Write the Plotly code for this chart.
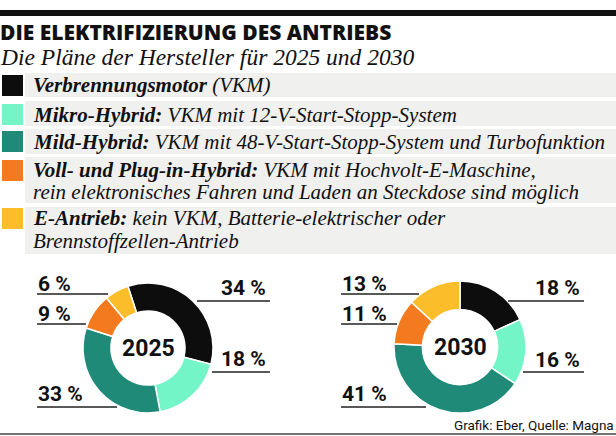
import plotly.graph_objects as go

# ---- data ----
categories = ["Verbrennungsmotor", "Mikro-Hybrid", "Mild-Hybrid", "Voll- und Plug-in-Hybrid", "E-Antrieb"]
values_2025 = [34, 18, 33, 9, 6]
values_2030 = [18, 16, 41, 11, 13]
years = ["2025", "2030"]
colors = ["#0d0d0d", "#74f5c8", "#1f8a78", "#f47a20", "#fcbd2b"]

legend_bold = ["Verbrennungsmotor", "Mikro-Hybrid:", "Mild-Hybrid:", "Voll- und Plug-in-Hybrid:", "E-Antrieb:"]
legend_rest = [
    ["(VKM)"],
    ["VKM mit 12-V-Start-Stopp-System"],
    ["VKM mit 48-V-Start-Stopp-System und Turbofunktion"],
    ["VKM mit Hochvolt-E-Maschine,", "rein elektronisches Fahren und Laden an Steckdose sind möglich"],
    ["kein VKM, Batterie-elektrischer oder", "Brennstoffzellen-Antrieb"],
]
title = "DIE ELEKTRIFIZIERUNG DES ANTRIEBS"
subtitle = "Die Pläne der Hersteller für 2025 und 2030"
source = "Grafik: Eber, Quelle: Magna"

W, H = 616, 436
SERIF = "Liberation Serif"
SANS = "Roboto"

fig = go.Figure()

# invisible cartesian layer (pixel coordinates) for shapes/annotations
fig.add_trace(go.Scatter(x=[], y=[], mode="markers", showlegend=False, hoverinfo="skip"))

# donuts
pie_geo = [
    dict(cx=148, cy=348, r=65, rot=-18),
    dict(cx=460, cy=347, r=66, rot=0),
]
for vals, g, yr in zip([values_2025, values_2030], pie_geo, years):
    fig.add_trace(go.Pie(
        labels=categories, values=vals, hole=0.57, sort=False, direction="clockwise",
        rotation=g["rot"], textinfo="none", hoverinfo="label+value",
        marker=dict(colors=colors, line=dict(color="white", width=1.5)),
        domain=dict(x=[(g["cx"] - g["r"]) / W, (g["cx"] + g["r"]) / W],
                    y=[(H - g["cy"] - g["r"]) / H, (H - g["cy"] + g["r"]) / H]),
        showlegend=False,
    ))

shapes = []
annotations = []

# top bar
shapes.append(dict(type="rect", x0=0, x1=W, y0=10, y1=16, fillcolor="#111", line_width=0, layer="below"))
annotations.append(dict(x=0, y=32, xshift=-2, text=title, xanchor="left", yanchor="middle",
                        showarrow=False, font=dict(family="Open Sans", size=21, weight=800, color="#111")))
annotations.append(dict(x=0, y=57, xshift=-2, text="<i>" + subtitle + "</i>", xanchor="left", yanchor="middle",
                        showarrow=False, font=dict(family=SERIF, size=23.5, color="#111")))

# legend rows
bands = [(73, 97), (101, 126), (129, 154), (157, 203), (207, 254)]
squares = [(75, 96), (104, 125), (131, 152), (160, 181), (208, 229)]
line_y = [[85], [115], [142], [170, 192], [218, 241]]
for i in range(5):
    b0, b1 = bands[i]
    shapes.append(dict(type="rect", x0=25, x1=W, y0=b0, y1=b1, fillcolor="#f0f0ee", line_width=0, layer="below"))
    s0, s1 = squares[i]
    shapes.append(dict(type="rect", x0=2, x1=23, y0=s0, y1=s1, fillcolor=colors[i], line_width=0, layer="below"))
    for j, txt in enumerate(legend_rest[i]):
        if j == 0:
            t = "<b><i>" + legend_bold[i] + "</i></b> <i>" + txt + "</i>"
        else:
            t = "<i>" + txt + "</i>"
        annotations.append(dict(x=31, y=line_y[i][j], text=t, xanchor="left", yanchor="middle",
                                showarrow=False, font=dict(family=SERIF, size=21, color="#111")))

# center labels
for yr, g in zip(years, pie_geo):
    annotations.append(dict(x=g["cx"], y=g["cy"], text="<b>" + yr + "</b>", xanchor="center", yanchor="middle",
                            showarrow=False, font=dict(family=SANS, size=23, color="#111")))

# percentage labels with underlines: (value list, index, side, text_y, line_y, x0, x1, text_x)
label_specs = [
    (values_2025, 0, "right", 288, 301, 197, 270, 268),
    (values_2025, 1, "right", 359, 372, 212, 270, 268),
    (values_2025, 4, "left", 284, 294, 37, 108, 36),
    (values_2025, 3, "left", 314, 324, 37, 86, 36),
    (values_2025, 2, "left", 394, 407, 37, 117, 36),
    (values_2030, 0, "right", 288, 301, 508, 584, 582),
    (values_2030, 1, "right", 360, 372, 523, 584, 582),
    (values_2030, 4, "left", 284, 294, 341, 419, 340),
    (values_2030, 3, "left", 314, 324, 341, 397, 340),
    (values_2030, 2, "left", 394, 407, 341, 426, 340),
]
for vals, idx, side, ty, ly, lx0, lx1, tx in label_specs:
    shapes.append(dict(type="line", x0=lx0, x1=lx1, y0=ly, y1=ly, line=dict(color="#222", width=1.5)))
    annotations.append(dict(x=tx, y=ty, text="<b>%d %%</b>" % vals[idx], xanchor=side, yanchor="middle",
                            showarrow=False, font=dict(family=SANS, size=21, color="#111")))

# source and bottom line
annotations.append(dict(x=W, y=425, xshift=0, text=source, xanchor="right", yanchor="middle", showarrow=False,
                        font=dict(family=SANS, size=13.5, color="#111")))
shapes.append(dict(type="line", x0=0, x1=W, y0=434, y1=434, line=dict(color="#444", width=1.5)))

fig.update_layout(
    width=W, height=H, margin=dict(l=0, r=0, t=0, b=0),
    paper_bgcolor="white", plot_bgcolor="white",
    xaxis=dict(range=[0, W], visible=False, fixedrange=True),
    yaxis=dict(range=[H, 0], visible=False, fixedrange=True),
    shapes=shapes, annotations=annotations,
)
fig.write_html("out.html", config={"displayModeBar": False},
               post_script="document.body.style.margin='0px';document.body.style.overflow='hidden';")
